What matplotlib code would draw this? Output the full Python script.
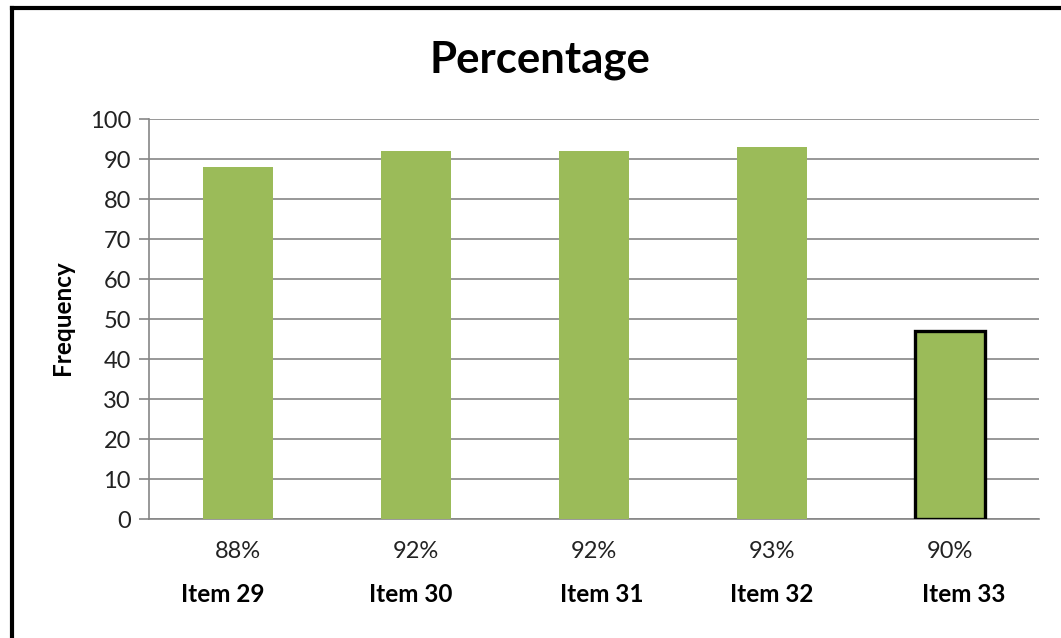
import numpy as np
import matplotlib
matplotlib.use("Agg")
from matplotlib import pyplot as plt
from matplotlib.lines import Line2D
from matplotlib.transforms import offset_copy

items = ["Item 29", "Item 30", "Item 31", "Item 32", "Item 33"]
frequency = [88, 92, 92, 93, 47]
percent_labels = ["88%", "92%", "92%", "93%", "90%"]
y_ticks = [0, 10, 20, 30, 40, 50, 60, 70, 80, 90, 100]

plt.rcParams['font.family'] = ['Lato', 'DejaVu Sans']

bar_color = '#9BBB59'
grid_color = '#868686'
# horizontal nudge (px) of the item names under each bar
name_shift = [-15, -5, 8, 0, 14]

fig = plt.figure(figsize=(10.61, 6.38), dpi=100)
ax = fig.add_axes([149 / 1061, 1 - 519 / 638, 890 / 1061, 400 / 638])

x = np.arange(len(items))
bars = ax.bar(x, frequency, width=0.395, color=bar_color, zorder=3)
# last bar is highlighted with a black outline
bars[-1].set_edgecolor('black')
bars[-1].set_linewidth(2.4)

ax.set_xlim(-0.5, len(items) - 0.5)
ax.set_ylim(0, 100)
ax.set_yticks(y_ticks)
ax.tick_params(axis='y', length=7, width=1.2, color=grid_color, labelsize=17, pad=6, labelcolor='#222222')
ax.set_xticks([])
ax.yaxis.grid(True, color=grid_color, linewidth=1.2, zorder=0)
ax.set_axisbelow(True)

for side in ['top', 'right']:
    ax.spines[side].set_visible(False)
for side in ['left', 'bottom']:
    ax.spines[side].set_color(grid_color)
    ax.spines[side].set_linewidth(1.2)

# two-line category labels: percentage above, item name below
trans = ax.get_xaxis_transform()
for xi, pct, name, dx in zip(x, percent_labels, items, name_shift):
    ax.text(xi, -0.08, pct, transform=trans, ha='center', va='center', fontsize=17, color='#222222')
    shifted = offset_copy(trans, fig=fig, x=dx, y=0, units='dots')
    ax.text(xi, -0.19, name, transform=shifted, ha='center', va='center', fontsize=17.5, fontweight='bold')

fig.text(62 / 1061, 1 - 318 / 638, "Frequency", rotation=90, ha='center', va='center',
         fontsize=17.5, fontweight='bold')
fig.text(540 / 1061, 1 - 60 / 638, "Percentage", ha='center', va='center',
         fontsize=31.5, fontweight='bold')

# frame around the chart (left and top edges)
fig.add_artist(Line2D([11.5 / 1061, 11.5 / 1061], [0, 1 - 8 / 638], transform=fig.transFigure,
                      color='black', linewidth=3, solid_capstyle='projecting'))
fig.add_artist(Line2D([11.5 / 1061, 1], [1 - 8 / 638, 1 - 8 / 638], transform=fig.transFigure,
                      color='black', linewidth=3, solid_capstyle='projecting'))

fig.savefig("out.png", dpi=100)
